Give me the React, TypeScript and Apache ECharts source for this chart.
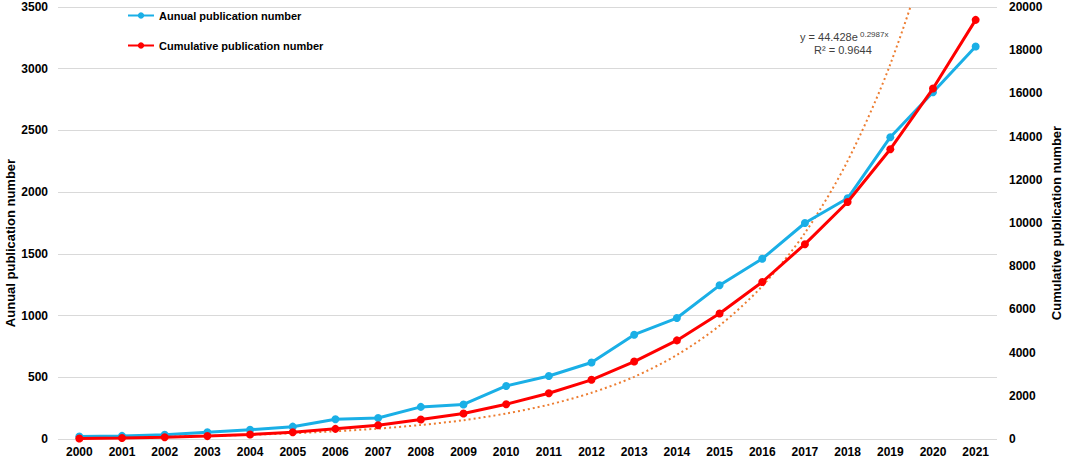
import React, { useEffect, useRef } from "react";
import * as echarts from "echarts";

const years = ["2000","2001","2002","2003","2004","2005","2006","2007","2008","2009","2010","2011","2012","2013","2014","2015","2016","2017","2018","2019","2020","2021"];
const annual = [20, 25, 35, 55, 75, 100, 160, 170, 260, 280, 430, 510, 620, 845, 980, 1245, 1460, 1750, 1950, 2445, 2810, 3180];
const cumulative = [20, 45, 80, 135, 210, 310, 470, 640, 900, 1180, 1610, 2120, 2740, 3585, 4565, 5810, 7270, 9020, 10970, 13415, 16225, 19405];
// exponential trendline
const trend = [60, 80, 110, 145, 195, 265, 360, 480, 650, 870, 1180, 1590, 2140, 2880, 3890, 5250, 7080, 9540, 12870, 17350, 23400, 31600];
const leftTicks = { min: 0, max: 3500, interval: 500 };
const rightTicks = { min: 0, max: 20000, interval: 2000 };
const leftName = "Aunual publication number";
const rightName = "Cumulative publication number";

const FONT = "Liberation Sans, Arial, sans-serif";

export default function App() {
  const ref = useRef<HTMLDivElement>(null);
  useEffect(() => {
    if (!ref.current) return;
    const chart = echarts.init(ref.current, undefined, { renderer: "svg" });
    const labelStyle = { color: "#000", fontWeight: "bold" as const, fontSize: 12, fontFamily: FONT };
    const plain = (v: number) => String(v);
    chart.setOption({
      animation: false,
      textStyle: { fontFamily: FONT },
      grid: { left: 58, right: 68, top: 7, bottom: 23, containLabel: false, outerBoundsMode: "none" },
      legend: {
        orient: "vertical",
        left: 122,
        top: 5,
        itemWidth: 26,
        itemHeight: 8,
        itemGap: 19,
        textStyle: { color: "#000", fontWeight: "bold", fontSize: 11, fontFamily: FONT },
        data: ["Aunual publication number", "Cumulative publication number"],
      },
      xAxis: {
        type: "category",
        data: years,
        boundaryGap: true,
        axisLine: { show: false },
        axisTick: { show: false },
        axisLabel: { ...labelStyle, margin: 7 },
      },
      yAxis: [
        {
          type: "value",
          ...leftTicks,
          axisLine: { show: false },
          axisTick: { show: false },
          axisLabel: { ...labelStyle, margin: 10, formatter: plain },
          splitLine: { lineStyle: { color: "#d9d9d9", width: 1 } },
        },
        {
          type: "value",
          ...rightTicks,
          axisLine: { show: false },
          axisTick: { show: false },
          axisLabel: { ...labelStyle, margin: 12, formatter: plain },
          splitLine: { show: false },
        },
      ],
      series: [
        {
          name: "Trend",
          type: "line",
          yAxisIndex: 1,
          data: trend,
          smooth: 0.3,
          showSymbol: false,
          symbol: "none",
          clip: true,
          lineStyle: { color: "#ED7D31", width: 2, type: [2, 3] },
          z: 1,
        },
        {
          name: "Aunual publication number",
          type: "line",
          yAxisIndex: 0,
          data: annual,
          symbol: "circle",
          symbolSize: 8,
          itemStyle: { color: "#1AAFE6" },
          lineStyle: { color: "#1AAFE6", width: 3 },
          z: 3,
        },
        {
          name: "Cumulative publication number",
          type: "line",
          yAxisIndex: 1,
          data: cumulative,
          symbol: "circle",
          symbolSize: 8,
          itemStyle: { color: "#FF0000" },
          lineStyle: { color: "#FF0000", width: 3 },
          z: 4,
        },
      ],
      graphic: [
        {
          type: "text",
          x: 10,
          y: 243,
          rotation: Math.PI / 2,
          style: {
            text: leftName,
            fill: "#000",
            font: `bold 13px ${FONT}`,
            align: "center",
            verticalAlign: "middle",
          },
        },
        {
          type: "text",
          x: 1056,
          y: 223,
          rotation: Math.PI / 2,
          style: {
            text: rightName,
            fill: "#000",
            font: `bold 13px ${FONT}`,
            align: "center",
            verticalAlign: "middle",
          },
        },
        {
          type: "text",
          left: 800,
          top: 31,
          style: { text: "y = 44.428e", fill: "#404040", font: `11px ${FONT}` },
        },
        {
          type: "text",
          left: 860,
          top: 30,
          style: { text: "0.2987x", fill: "#404040", font: `8px ${FONT}` },
        },
        {
          type: "text",
          left: 814,
          top: 44,
          style: { text: "R² = 0.9644", fill: "#404040", font: `11px ${FONT}` },
        },
      ],
    });
    return () => chart.dispose();
  }, []);
  return (
    <div
      ref={ref}
      style={{ position: "fixed", left: 0, top: 0, width: 1065, height: 462, background: "#fff" }}
    />
  );
}
